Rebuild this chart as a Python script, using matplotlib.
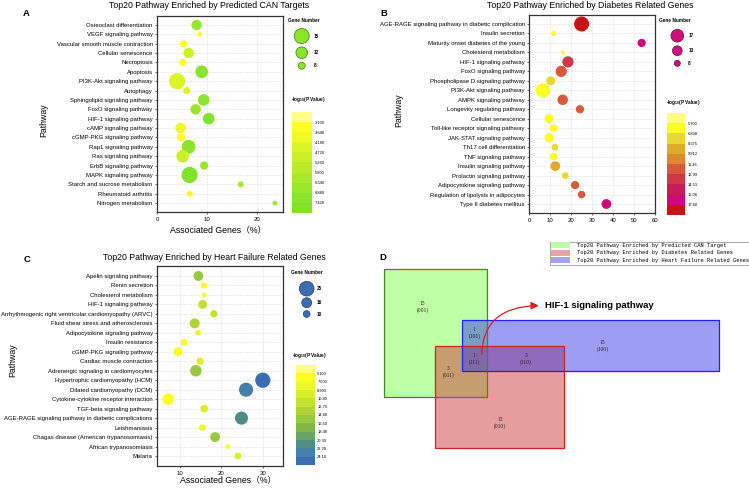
import numpy as np
import matplotlib
matplotlib.use("Agg")
import matplotlib.pyplot as plt
from matplotlib.colors import ListedColormap, BoundaryNorm
from matplotlib.cm import ScalarMappable
from matplotlib.patches import Rectangle, FancyArrowPatch

plt.rcParams['font.family'] = ['Liberation Sans', 'Noto Sans CJK SC', 'DejaVu Sans']
plt.rcParams['mathtext.fontset'] = 'custom'
plt.rcParams['mathtext.rm'] = 'Liberation Sans:bold'
plt.rcParams['mathtext.it'] = 'Liberation Sans:bold'
plt.rcParams['mathtext.bf'] = 'Liberation Sans:bold'

# ---------------- DATA ----------------
pathways_A = ["Osteoclast differentiation", "VEGF signaling pathway",
              "Vascular smooth muscle contraction", "Cellular senescence", "Necroptosis",
              "Apoptosis", "PI3K-Akt signaling pathway", "Autophagy",
              "Sphingolipid signaling pathway", "FoxO signaling pathway",
              "HIF-1 signaling pathway", "cAMP signaling pathway", "cGMP-PKG signaling pathway",
              "Rap1 signaling pathway", "Ras signaling pathway", "ErbB signaling pathway",
              "MAPK signaling pathway", "Starch and sucrose metabolism",
              "Rheumatoid arthritis", "Nitrogen metabolism"]
pct_A = [7.9, 8.5, 5.3, 6.3, 5.1, 8.9, 4.0, 5.9, 9.3, 7.7, 10.3, 4.7, 4.8, 6.3, 5.1, 9.4,
         6.5, 16.7, 6.5, 23.5]
genes_A = [11, 6, 8, 11, 8, 13, 16, 8, 12, 11, 12, 11, 9, 14, 13, 9, 16, 7, 7, 6]
logp_A = [6.5, 3.4, 3.5, 5.0, 3.4, 7.0, 4.5, 4.3, 7.2, 6.8, 7.5, 4.0, 3.5, 7.0, 5.0, 6.5,
          7.6, 6.0, 3.3, 6.5]
legend_genes_A = [15, 12, 8]
cbar_ticks_A = [3.10, 3.64, 4.18, 4.72, 5.26, 5.80, 6.34, 6.88, 7.42]

pathways_B = ["AGE-RAGE signaling pathway in diabetic complication", "Insulin secretion",
              "Maturity onset diabetes of the young", "Cholesterol metabolism",
              "HIF-1 signaling pathway", "FoxO signaling pathway",
              "Phospholipase D signaling pathway", "PI3K-Akt signaling pathway",
              "AMPK signaling pathway", "Longevity regulating pathway", "Cellular senescence",
              "Toll-like receptor signaling pathway", "JAK-STAT signaling pathway",
              "Th17 cell differentiation", "TNF signaling pathway", "Insulin signaling pathway",
              "Prolactin signaling pathway", "Adipocytokine signaling pathway",
              "Regulation of lipolysis in adipocytes", "Type II diabetes mellitus"]
pct_B = [24.9, 11.6, 53.5, 16.0, 18.4, 15.2, 10.2, 6.5, 15.9, 24.1, 9.4, 11.6, 9.4, 12.2,
         11.6, 12.4, 17.1, 21.8, 24.9, 36.7]
genes_B = [20, 7, 11, 5, 15, 15, 12, 19, 14, 11, 12, 10, 12, 9, 10, 13, 9, 11, 10, 13]
logp_B = [18.5, 6.0, 17.0, 6.0, 13.5, 12.0, 7.5, 6.2, 12.2, 12.0, 6.5, 6.0, 6.3, 7.0, 6.5,
          9.0, 7.5, 12.0, 11.8, 16.8]
legend_genes_B = [17, 13, 8]
cbar_ticks_B = [5.300, 6.8375, 8.375, 9.9125, 11.45, 12.9875, 14.525, 16.0625, 17.60]

pathways_C = ["Apelin signaling pathway", "Renin secretion", "Cholesterol metabolism",
              "HIF-1 signaling pathway",
              "Arrhythmogenic right ventricular cardiomyopathy (ARVC)",
              "Fluid shear stress and atherosclerosis", "Adipocytokine signaling pathway",
              "Insulin resistance", "cGMP-PKG signaling pathway", "Cardiac muscle contraction",
              "Adrenergic signaling in cardiomyocytes", "Hypertrophic cardiomyopathy (HCM)",
              "Dilated cardiomyopathy (DCM)", "Cytokine-cytokine receptor interaction",
              "TGF-beta signaling pathway",
              "AGE-RAGE signaling pathway in diabetic complications", "Leishmaniasis",
              "Chagas disease (American trypanosomiasis)", "African trypanosomiasis", "Malaria"]
pct_C = [14.5, 15.8, 15.9, 15.5, 18.2, 13.6, 14.4, 11.1, 9.6, 14.9, 13.9, 29.9, 25.9, 7.25,
         15.9, 24.8, 15.4, 18.5, 21.5, 23.9]
genes_C = [16, 9, 6, 14, 11, 16, 8, 10, 14, 11, 19, 26, 24, 19, 12, 22, 10, 16, 6, 10]
logp_C = [15.0, 6.5, 6.0, 11.5, 11.0, 13.5, 7.5, 6.5, 6.5, 9.0, 15.0, 24.5, 23.0, 6.0,
          10.0, 21.0, 7.5, 15.5, 6.0, 9.5]
legend_genes_C = [25, 16, 10]
cbar_ticks_C = [5.10, 7.00, 8.90, 10.80, 12.70, 14.60, 16.50, 18.40, 20.30, 22.20, 24.10]

venn_codes = ["001", "101", "111", "110", "100", "011", "010"]
venn_counts = [15, 1, 1, 3, 15, 3, 13]
venn_sets = ["Top20 Pathway Enriched by Predicted CAN Target",
             "Top20 Pathway Enriched by Diabetes Related Genes",
             "Top20 Pathway Enriched by Heart Failure Related Genes"]
highlight = "HIF-1 signaling pathway"

# ---------------- STYLE ----------------
W, H, DPI = 749, 492, 100
fig = plt.figure(figsize=(W / DPI, H / DPI), dpi=DPI)


def box(x0, y0, x1, y1):
    return [x0 / W, 1 - y1 / H, (x1 - x0) / W, (y1 - y0) / H]


colors_A = ["#FFFF88", "#FFFF22", "#EEFA24", "#DDF526", "#CCF028", "#BBEB2A", "#AAE82A",
            "#9AE62A", "#8CE42A", "#80E22A"]
colors_B = ["#FFFF80", "#FFFF22", "#E8D830", "#DDAA2A", "#DD8830", "#D85A3A", "#CC3A48",
            "#C81A55", "#D0087A", "#C81414"]
colors_C = ["#FFFF80", "#FFFF22", "#ECF82A", "#D8EE2A", "#C4E030", "#B0D435", "#98C83E",
            "#80B848", "#68A462", "#4E8E84", "#4480A8", "#3D6CB0"]

size_A = (1.14, -2.1)
size_B = (0.75, 0.0)
size_C = (0.533, 1.37)


def s_of(n, par):
    d = par[0] * np.asarray(n, float) + par[1]
    return (d * 72 / DPI) ** 2


def panel(axbox, paths, pct, genes, logp, colors, ticks, sp, xlim, xticks, pad):
    ax = fig.add_axes(box(*axbox))
    step = ticks[1] - ticks[0]
    bounds = [ticks[0] - step] + list(ticks) + [ticks[-1] + step]
    cmap = ListedColormap(colors)
    norm = BoundaryNorm(bounds, cmap.N)
    y = np.arange(len(paths))
    ax.scatter(pct, y, s=s_of(genes, sp), c=logp, cmap=cmap, norm=norm,
               edgecolors='none', zorder=3)
    ax.set_yticks(y)
    ax.set_yticklabels(paths, fontsize=4.35)
    ax.set_ylim(len(paths) - 1 + pad, -pad)
    ax.set_xlim(*xlim)
    ax.set_xticks(xticks)
    ax.tick_params(axis='both', length=1.6, width=0.5, color='#333333', pad=1.5)
    ax.tick_params(axis='x', labelsize=4.3, pad=2.2)
    ax.grid(True, color='#DDDDDD', linestyle='--', linewidth=0.4, zorder=0)
    ax.set_axisbelow(True)
    for sp_ in ax.spines.values():
        sp_.set_linewidth(0.9)
        sp_.set_color('#333333')
    return ax, cmap, norm


def cbar(cbox, cmap, norm, ticks):
    cax = fig.add_axes(box(*cbox))
    cb = fig.colorbar(ScalarMappable(norm=norm, cmap=cmap), cax=cax, ticks=ticks)
    cb.outline.set_visible(False)
    cax.invert_yaxis()
    cax.minorticks_off()
    cb.set_ticklabels([f"{t:#.4g}" for t in ticks])
    cax.tick_params(which='both', length=0, labelsize=2.9, pad=2)


axA, cmA, nmA = panel((157, 16, 283, 212), pathways_A, pct_A, genes_A, logp_A, colors_A,
                      cbar_ticks_A, size_A, (0, 25.1), [0, 10, 20], 0.95)
cbar((292, 112, 312, 213), cmA, nmA, cbar_ticks_A)

axB, cmB, nmB = panel((529.3, 15, 655.3, 213), pathways_B, pct_B, genes_B, logp_B, colors_B,
                      cbar_ticks_B, size_B, (0, 60), [0, 10, 20, 30, 40, 50, 60], 0.95)
cbar((667, 113, 685, 215), cmB, nmB, cbar_ticks_B)

axC, cmC, nmC = panel((157, 266, 283.3, 466), pathways_C, pct_C, genes_C, logp_C, colors_C,
                      cbar_ticks_C, size_C, (4.6, 34.8), [10, 20, 30], 1.05)
cbar((296, 365, 314.5, 465), cmC, nmC, cbar_ticks_C)

# ---------------- overlay (texts, legends, venn) ----------------
ov = fig.add_axes([0, 0, 1, 1], zorder=10)
ov.set_xlim(0, W)
ov.set_ylim(H, 0)
ov.axis('off')

# panel letters
for lab, (x, y) in zip("ABCD", [(26, 13), (384, 13), (27, 259), (383, 258)]):
    ov.text(x, y, lab, fontsize=6.8, fontweight='bold', ha='center', va='center')

# titles
ov.text(209.5, 5.5, "Top20 Pathway Enriched by Predicted CAN Targets", fontsize=6.3,
        ha='center', va='center')
ov.text(590, 5.5, "Top20 Pathway Enriched by Diabetes Related Genes", fontsize=6.3,
        ha='center', va='center')
ov.text(214, 257, "Top20 Pathway Enriched by Heart Failure Related Genes", fontsize=6.3,
        ha='center', va='center')

# axis labels
for (x, y) in [(44, 120), (399, 110), (13, 360)]:
    ov.text(x, y, "Pathway", fontsize=6.3, rotation=90, ha='center', va='center')
for (x, y) in [(218, 230.5), (228, 480.5)]:
    ov.text(x, y, "Associated Genes（%）", fontsize=6.3, ha='center', va='center')

# size legends
legs = [
    (legend_genes_A, size_A, "#8CE42A", "#3C7A10", (304, 20.7), 301.7, [36, 52.7, 65.7], 314,
     (308, 100)),
    (legend_genes_B, size_B, "#D0107A", "#6A0A3A", (675, 20.7), 677.3, [35.7, 50.7, 63.3], 688.3,
     (683, 102.7)),
    (legend_genes_C, size_C, "#3D6CB0", "#1A3A70", (307.3, 272.7), 306.7, [288.7, 302.7, 314],
     316.7, (309.3, 355)),
]
for vals, sp, fc, ec, tpos, cx, cys, lx, lpos in legs:
    ov.text(*tpos, "Gene Number", fontsize=3.4, fontweight='bold', ha='center', va='center')
    ov.scatter([cx] * len(vals), cys, s=s_of(vals, sp), c=fc, edgecolors=ec, linewidths=0.5)
    for v, cy in zip(vals, cys):
        ov.text(lx, cy, str(v), fontsize=3.3, fontweight='bold', ha='left', va='center')
    ov.text(*lpos, r"-log$_{10}$(P Value)", fontsize=3.4, fontweight='bold',
            ha='center', va='center')

# Venn-like rectangles
rects = [((384, 269, 487.3, 396.7), (0.5, 1.0, 0.3, 0.5), "#3C8A22"),
         ((435.3, 346, 564.3, 448.3), (0.8, 0.2, 0.2, 0.48), "#D02020"),
         ((461.7, 320, 718.7, 371.3), (0.2, 0.2, 0.9, 0.48), "#2020F0")]
for (x0, y0, x1, y1), fc, ec in rects:
    ov.add_patch(Rectangle((x0, y0), x1 - x0, y1 - y0, facecolor=fc, edgecolor='none'))
for (x0, y0, x1, y1), fc, ec in rects:
    ov.add_patch(Rectangle((x0, y0), x1 - x0, y1 - y0, facecolor='none', edgecolor=ec,
                           linewidth=0.9))

venn_pos = {"001": (422.7, 307.3), "101": (474.3, 332.7), "111": (474.3, 359),
            "110": (525.7, 359), "100": (602.7, 345.7), "011": (448.3, 371.7),
            "010": (500, 422.7)}
for code, cnt in zip(venn_codes, venn_counts):
    x, y = venn_pos[code]
    ov.text(x, y, f"{cnt}\n({code})", fontsize=4.0, family='Liberation Serif',
            ha='center', va='center', linespacing=1.3, color='#222222')

arrow = FancyArrowPatch((481.7, 357), (541.5, 305.5),
                        connectionstyle="angle3,angleA=90,angleB=0",
                        arrowstyle="-|>,head_length=3,head_width=1.5", color='#D42020',
                        linewidth=0.9, mutation_scale=1.5)
ov.add_patch(arrow)
ov.text(545, 305, highlight, fontsize=6.8, fontweight='bold', ha='left', va='center')

# Venn legend box
ov.add_patch(Rectangle((550, 241.7), 198.5, 23.3, facecolor='white', edgecolor='#999999',
                       linewidth=0.6))
leg_cols = ["#BFFFA6", "#E8A3A3", "#A4A4F2"]
for i, (name, col) in enumerate(zip(venn_sets, leg_cols)):
    yc = 245.2 + i * 7.5
    ov.add_patch(Rectangle((551, yc - 3.2), 18.5, 6.4, facecolor=col, edgecolor='none'))
    ov.text(577, yc, name, fontsize=3.9, family='Liberation Mono', ha='left', va='center')

fig.savefig("out.png", dpi=DPI)
